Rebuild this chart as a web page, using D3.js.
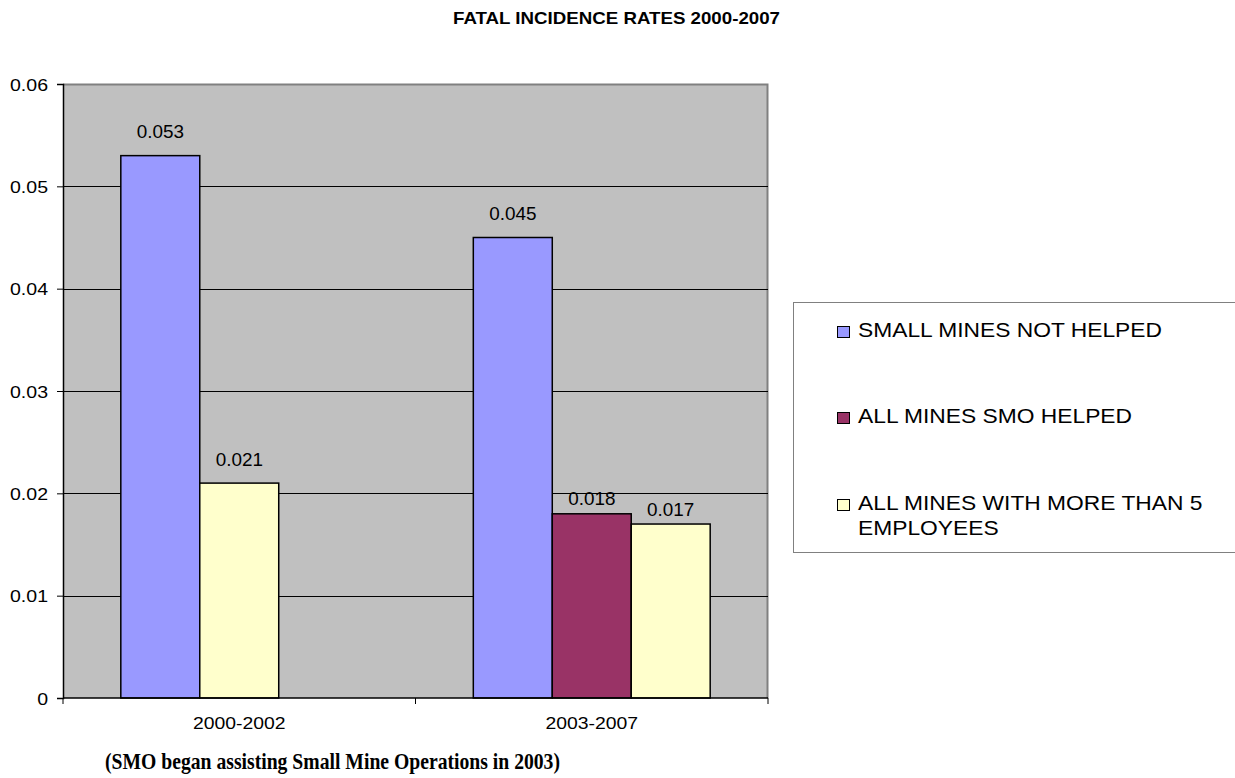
<!DOCTYPE html>
<html><head><meta charset="utf-8">
<script src="https://cdn.jsdelivr.net/npm/d3@7"></script>
<style>
html,body{margin:0;padding:0;background:#fff;}
svg{display:block;font-family:"Liberation Sans",Arial,sans-serif;}
</style></head>
<body>
<svg id="chart" width="1235" height="778"></svg>
<script>
const title = "FATAL INCIDENCE RATES 2000-2007";
const caption = "(SMO began assisting Small Mine Operations in 2003)";
const categories = ["2000-2002", "2003-2007"];
const seriesNames = ["SMALL MINES NOT HELPED", "ALL MINES SMO HELPED", "ALL MINES WITH MORE THAN 5 EMPLOYEES"];
const smallMinesNotHelped = [0.053, 0.045];
const allMinesSmoHelped = [null, 0.018];
const allMinesMoreThan5 = [0.021, 0.017];
const seriesColors = ["#9999FF", "#993366", "#FFFFCC"];
const yTicks = [0, 0.01, 0.02, 0.03, 0.04, 0.05, 0.06];
const yTickLabels = ["0", "0.01", "0.02", "0.03", "0.04", "0.05", "0.06"];

const seriesValues = [smallMinesNotHelped, allMinesSmoHelped, allMinesMoreThan5];
const svg = d3.select("#chart");
const plot = {left: 63, right: 768, top: 84, bottom: 698};

const x = d3.scaleBand().domain(categories).range([plot.left, plot.right]).paddingInner(0.328).paddingOuter(0.164);
const slot = d3.scaleBand().domain([0, 1, 2]).range([0, x.bandwidth()]);
const y = d3.scaleLinear().domain([0, 0.06]).range([plot.bottom, plot.top]);

// plot background
svg.append("rect").attr("x", plot.left).attr("y", plot.top)
  .attr("width", plot.right - plot.left).attr("height", plot.bottom - plot.top)
  .attr("fill", "#C0C0C0");
svg.append("path").attr("d", `M${plot.left},${plot.top+0.5}H${plot.right-0.5}V${plot.bottom}`)
  .attr("fill", "none").attr("stroke", "#808080").attr("stroke-width", 2);

// gridlines
svg.append("g").selectAll("line").data(yTicks.filter(t => t > 0 && t < 0.06)).join("line")
  .attr("x1", plot.left).attr("x2", plot.right)
  .attr("y1", d => Math.round(y(d)) + 0.5).attr("y2", d => Math.round(y(d)) + 0.5)
  .attr("stroke", "#000").attr("stroke-width", 1);

// bars
const bars = [];
categories.forEach((c, ci) => {
  let k = 0;
  seriesValues.forEach((vals, si) => {
    const v = vals[ci];
    if (v == null) return;
    bars.push({cat: c, ci, si, slot: k, value: v});
    k++;
  });
});
svg.append("g").selectAll("rect").data(bars).join("rect")
  .attr("x", d => x(d.cat) + slot(d.slot))
  .attr("y", d => y(d.value))
  .attr("width", slot.bandwidth())
  .attr("height", d => y(0) - y(d.value))
  .attr("fill", d => seriesColors[d.si])
  .attr("stroke", "#000").attr("stroke-width", 1.5);

// data labels
svg.append("g").selectAll("text").data(bars).join("text")
  .attr("transform", d => `translate(${x(d.cat) + slot(d.slot) + slot.bandwidth() / 2},${y(d.value) - ((d.ci === 1 && d.slot > 0) ? 8.5 : 17.5)}) scale(1.05,1)`)
  .attr("text-anchor", "middle").attr("font-size", 18).attr("fill", "#000")
  .text(d => d.value.toFixed(3));

// y axis
const yAxis = d3.axisLeft(y).tickValues(yTicks).tickFormat((d, i) => yTickLabels[i]).tickSize(6).tickPadding(0);
const ya = svg.append("g").attr("transform", `translate(${plot.left},0)`).call(yAxis);
ya.select(".domain").attr("stroke", "#000").attr("stroke-width", 1.5);
ya.selectAll(".tick line").attr("stroke", "#000");
ya.selectAll(".tick text").attr("font-size", 17).attr("font-family", "Liberation Sans, Arial, sans-serif")
  .attr("fill", "#000").attr("x", 0).attr("dy", null).attr("y", 6)
  .attr("transform", "translate(-15,0) scale(1.15,1)");

// x axis
const xa = svg.append("g").attr("transform", `translate(0,${plot.bottom})`);
xa.append("line").attr("x1", plot.left).attr("x2", plot.right).attr("y1", 0).attr("y2", 0)
  .attr("stroke", "#000").attr("stroke-width", 1.5);
const bounds = [plot.left, ...categories.slice(1).map(c => x(c) - x.step() * x.paddingInner() / 2), plot.right];
xa.selectAll("line.tk").data(bounds).join("line").attr("class", "tk")
  .attr("x1", d => d).attr("x2", d => d).attr("y1", 0).attr("y2", 6).attr("stroke", "#000");
xa.selectAll("text").data(categories).join("text")
  .attr("transform", d => `translate(${x(d) + x.bandwidth() / 2},31) scale(1.14,1)`)
  .attr("text-anchor", "middle").attr("font-size", 17).attr("fill", "#000").text(d => d);

// title
svg.append("text").attr("x", 453).attr("y", 24)
  .attr("font-size", 17).attr("font-weight", "bold").attr("textLength", 327).attr("lengthAdjust", "spacingAndGlyphs").text(title);

// caption
svg.append("text").attr("x", 105).attr("y", 769)
  .attr("font-family", "'Liberation Serif', 'DejaVu Serif', serif").attr("font-weight", "bold")
  .attr("font-size", 24).attr("textLength", 455).attr("lengthAdjust", "spacingAndGlyphs").text(caption);

// legend
const lg = svg.append("g");
lg.append("rect").attr("x", 793.5).attr("y", 302.5).attr("width", 445).attr("height", 250)
  .attr("fill", "#fff").attr("stroke", "#808080").attr("stroke-width", 1);
const legendRows = [
  {lines: ["SMALL MINES NOT HELPED"], y: 337},
  {lines: ["ALL MINES SMO HELPED"], y: 423},
  {lines: ["ALL MINES WITH MORE THAN 5", "EMPLOYEES"], y: 510}
];
const li = lg.selectAll("g.item").data(seriesNames).join("g").attr("class", "item");
li.append("rect").attr("x", 837.5).attr("y", (d, i) => legendRows[i].y - 10.5)
  .attr("width", 12).attr("height", 11).attr("fill", (d, i) => seriesColors[i]).attr("stroke", "#000");
li.each(function(d, i) {
  legendRows[i].lines.forEach((ln, j) => {
    d3.select(this).append("text")
      .attr("transform", `translate(858,${legendRows[i].y + j * 25}) scale(1.14,1)`)
      .attr("font-size", 20).attr("fill", "#000").text(ln);
  });
});
</script>
</body></html>
